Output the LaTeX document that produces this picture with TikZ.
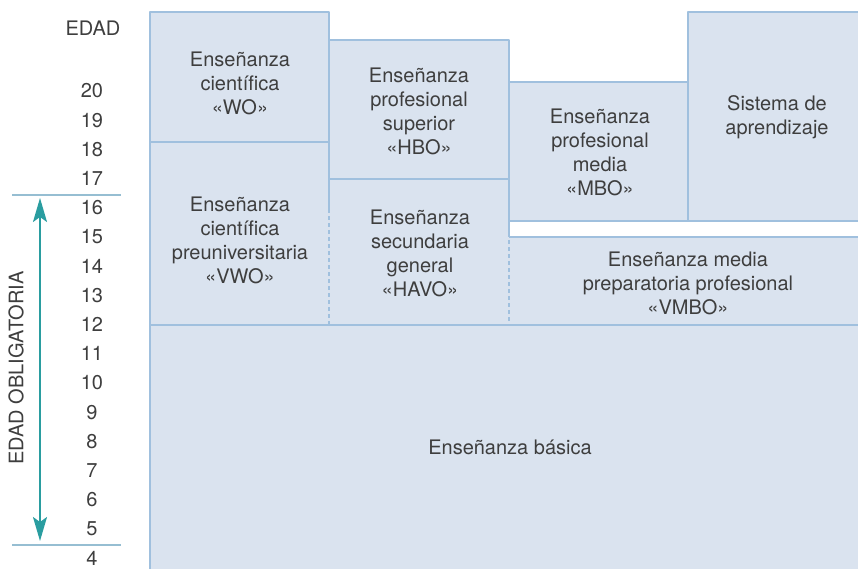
\documentclass[tikz,border=0pt]{standalone}
\usepackage{fontspec}
\setmainfont{TeX Gyre Heros}
\usetikzlibrary{arrows.meta}
\definecolor{boxfill}{RGB}{218,227,239}
\definecolor{boxline}{RGB}{160,192,222}
\definecolor{txtgray}{RGB}{62,62,62}
\definecolor{arrowteal}{RGB}{42,157,160}
\definecolor{agerule}{RGB}{150,190,210}
\begin{document}
\begin{tikzpicture}[x=0.5pt,y=-0.5pt,line join=round,
    edge/.style={boxline,line width=0.75pt},
    dashedge/.style={boxline,line width=0.75pt,dash pattern=on 2pt off 1.5pt},
    boxtext/.style={align=center,text=txtgray,inner sep=0pt,font=\fontsize{10}{12}\selectfont},
    age/.style={text=txtgray,inner sep=0pt,font=\fontsize{10}{12}\selectfont}]
    \useasboundingbox (0,0) rectangle (858,569);
    % fondos
    \fill[boxfill] (150,325) rectangle (858,569);
    \fill[boxfill] (150,12) rectangle (329,325);
    \fill[boxfill] (329,40) rectangle (509,325);
    \fill[boxfill] (509,82) rectangle (688,220);
    \fill[boxfill] (688,12) rectangle (858,220);
    \fill[boxfill] (509,237) rectangle (858,325);
    % bordes
    \draw[edge] (150,569) -- (150,12) -- (329,12) -- (329,213);
    \draw[edge] (150,142) -- (329,142);
    \draw[edge] (329,40) -- (509,40) -- (509,237);
    \draw[edge] (329,179) -- (509,179);
    \draw[edge] (509,82) -- (688,82);
    \draw[edge] (688,220) -- (688,12) -- (858,12);
    \draw[edge] (509,221) -- (858,221);
    \draw[edge] (509,237) -- (858,237);
    \draw[edge] (150,325) -- (858,325);
    \draw[dashedge] (329,216) -- (329,325);
    \draw[dashedge] (509,240) -- (509,325);
    % textos
    \node[boxtext] (wo) at (240,83) {Enseñanza\\científica\\«WO»};
    \node[boxtext] (vwo) at (240,240) {Enseñanza\\científica\\preuniversitaria\\«VWO»};
    \node[boxtext] (hbo) at (419,111) {Enseñanza\\profesional\\superior\\«HBO»};
    \node[boxtext] (havo) at (420,253) {Enseñanza\\secundaria\\general\\«HAVO»};
    \node[boxtext] (mbo) at (600,152) {Enseñanza\\profesional\\media\\«MBO»};
    \node[boxtext] (aprend) at (777,117) {Sistema de\\aprendizaje};
    \node[boxtext] (vmbo) at (688,283) {Enseñanza media\\preparatoria profesional\\«VMBO»};
    \node[boxtext] (basica) at (510,447) {Enseñanza básica};
    % edades
    \node[age] (edad) at (93,28) {EDAD};
    \foreach \a in {4,...,20}
        \node[age] (age\a) at (92,{91+(20-\a)*29.2}) {\a};
    \draw[agerule,line width=0.75pt] (12,195) -- (121,195);
    \draw[agerule,line width=0.75pt] (12,545) -- (121,545);
    \coordinate (obtop) at (40,198);
    \coordinate (obbot) at (40,541);
    \draw[arrowteal,line width=0.9pt,{Stealth[length=12pt,width=7pt,inset=2.5pt]}-{Stealth[length=12pt,width=7pt,inset=2.5pt]}] (obtop) -- (obbot);
    \node[age,rotate=90] (oblig) at (16,368) {EDAD OBLIGATORIA};
\end{tikzpicture}
\end{document}
